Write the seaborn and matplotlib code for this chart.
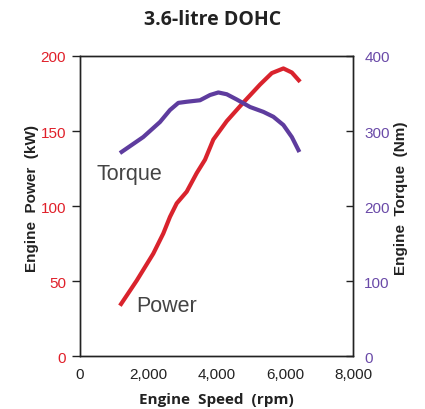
import matplotlib
matplotlib.use("Agg")
import matplotlib.pyplot as plt
import seaborn as sns
import pandas as pd

power_rpm = [1172, 1662, 2148, 2441, 2637, 2834, 3127, 3420, 3663, 3906, 4299, 4785, 5275, 5618, 5957, 6204, 6447]
power_kw = [33.6, 50.3, 68.3, 81.7, 92.8, 101.8, 109.6, 122, 130.9, 144.3, 156.6, 169, 181, 188.6, 191.7, 189, 182.8]

torque_rpm = [1172, 1855, 2344, 2637, 2881, 3127, 3516, 3810, 4053, 4299, 4592, 4982, 5372, 5664, 5957, 6204, 6426]
torque_nm = [270.6, 292, 312, 328, 337.5, 339, 341, 348, 351.4, 349, 342, 332, 325.5, 319, 308, 292, 272]

x_ticks = [0, 2000, 4000, 6000, 8000]
x_tick_labels = ["0", "2,000", "4,000", "6,000", "8,000"]
power_ticks = [0, 50, 100, 150, 200]
torque_ticks = [0, 100, 200, 300, 400]

RED = "#d9232d"
PURPLE = "#5e3c9e"
RED_T = "#e0202a"
PURPLE_T = "#6a4aa8"

sns.set_style("white")
plt.rcParams["font.family"] = ["Liberation Sans", "DejaVu Sans"]

fig = plt.figure(figsize=(4.25, 4.1), dpi=100)
ax = fig.add_axes([0.188, 0.129, 0.643, 0.732])
ax2 = ax.twinx()

pdf = pd.DataFrame({"rpm": power_rpm, "kw": power_kw})
tdf = pd.DataFrame({"rpm": torque_rpm, "nm": torque_nm})
sns.lineplot(data=pdf, x="rpm", y="kw", ax=ax, color=RED, linewidth=3.0, solid_capstyle="butt")
sns.lineplot(data=tdf, x="rpm", y="nm", ax=ax2, color=PURPLE, linewidth=3.0, solid_capstyle="butt")

ax.set_xlim(0, 8000)
ax.set_ylim(0, 200)
ax2.set_ylim(0, 400)
ax.set_xticks(x_ticks)
ax.set_xticklabels(x_tick_labels)
ax.set_yticks(power_ticks)
ax2.set_yticks(torque_ticks)

for a in (ax, ax2):
    for s in a.spines.values():
        s.set_color("#222222")
        s.set_linewidth(1.0)

ax.tick_params(axis="x", direction="in", length=4, width=1, color="#222222", labelcolor="#222222", labelsize=11, pad=8)
ax.tick_params(axis="y", direction="out", length=6, width=1, color="#222222", labelcolor=RED_T, labelsize=11, pad=4)
ax2.tick_params(axis="y", direction="in", length=5, width=1, color="#222222", labelcolor=PURPLE_T, labelsize=11, pad=8)

lab_font = dict(fontsize=11, fontweight="bold", color="#222222")
ax.set_xlabel("Engine  Speed  (rpm)", fontsize=11, fontweight="bold", color="#222222",
              family=["Open Sans", "DejaVu Sans"])
ax.xaxis.set_label_coords(0.5, -0.118)
ax.set_ylabel("Engine  Power  (kW)", **lab_font)
ax.yaxis.set_label_coords(-0.148, 0.53)
ax2.set_ylabel("Engine  Torque  (Nm)", **lab_font)
ax2.yaxis.set_label_coords(1.15, 0.53)

ax.text(500, 122, "Torque", fontsize=15.5, color="#444444", va="center")
ax.text(1650, 34, "Power", fontsize=15.5, color="#444444", va="center")

fig.text(0.5, 0.952, "3.6-litre DOHC", ha="center", va="center", fontsize=14,
         fontweight="bold", color="#222222", family=["Open Sans", "DejaVu Sans"])

fig.savefig("out.png", dpi=100)
